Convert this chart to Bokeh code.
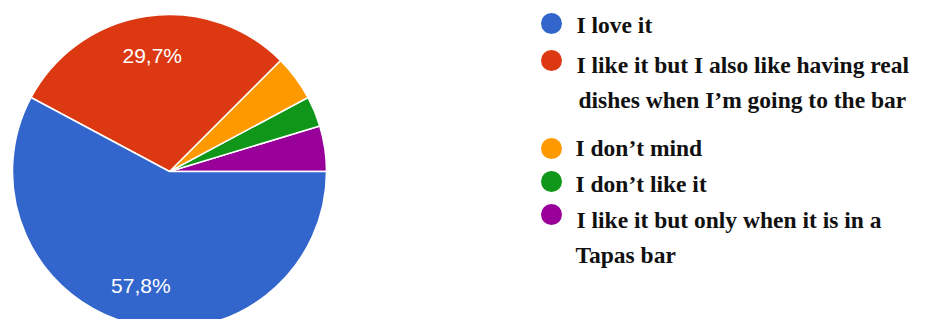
import numpy as np
from bokeh.plotting import figure
from bokeh.models import Range1d, ColumnDataSource
from bokeh.core.properties import value
from bokeh.embed import file_html
from bokeh.resources import INLINE

# ---- data ----
categories = ["I love it",
              "I like it but I also like having real dishes when I\u2019m going to the bar",
              "I don\u2019t mind",
              "I don\u2019t like it",
              "I like it but only when it is in a Tapas bar"]
counts = [37, 19, 3, 2, 3]
colors = ["#3366cc", "#dc3912", "#ff9900", "#109618", "#990099"]
legend_lines = [["I love it"],
                ["I like it but I also like having real", "dishes when I\u2019m going to the bar"],
                ["I don\u2019t mind"],
                ["I don\u2019t like it"],
                ["I like it but only when it is in a", "Tapas bar"]]

W, H = 926, 319
p = figure(width=W, height=H, output_backend="svg", toolbar_location=None,
           x_range=Range1d(0, W), y_range=Range1d(0, H), min_border=0)
p.axis.visible = False
p.grid.visible = False
p.outline_line_color = None
p.background_fill_color = "white"

def Y(py):
    return H - py

cx, cy, R = 169, Y(171), 157
vals = np.array(counts, dtype=float)
frac = vals / vals.sum()
# drawing order counter-clockwise from east: purple, green, orange, red, blue
order = [4, 3, 2, 1, 0]
start = 0.0
starts, ends, cols, mids, fr = [], [], [], [], []
for i in order:
    a0 = start
    a1 = start + frac[i] * 2 * np.pi
    starts.append(a0); ends.append(a1); cols.append(colors[i])
    mids.append((a0 + a1) / 2); fr.append(frac[i])
    start = a1

src = ColumnDataSource(dict(x=[cx]*len(starts), y=[cy]*len(starts),
                            s=starts, e=ends, c=cols))
p.wedge(x="x", y="y", radius=R, start_angle="s", end_angle="e", fill_color="c",
        line_color="white", line_width=1.5, source=src)

# percentage labels for large slices
lx, ly, lt = [], [], []
for m, f in zip(mids, fr):
    if f > 0.2:
        lx.append(cx + 0.75 * R * np.cos(m))
        ly.append(cy + 0.75 * R * np.sin(m))
        lt.append(("%.1f%%" % (f * 100)).replace(".", ","))
p.text(x=lx, y=ly, text=lt, text_color="white", text_font=value("Liberation Sans"),
       text_font_size="21px", text_align="center", text_baseline="middle")

# legend
circle_y = [23, 60, 148, 181, 214]
base_y = [[24], [64, 99], [147], [183], [219, 254]]
text_x = [[576], [576, 578], [575], [575], [576, 575]]
for k in range(len(categories)):
    p.scatter(x=[551], y=[Y(circle_y[k])], size=21, marker="circle",
              fill_color=colors[k], line_color=None)
    for line, by, tx in zip(legend_lines[k], base_y[k], text_x[k]):
        p.text(x=[tx], y=[Y(by)], text=[line], text_color="#111111",
               text_font=value("Liberation Serif"), text_font_style="bold",
               text_font_size="23.5px", text_align="left", text_baseline="alphabetic")

open("out.html", "w").write(file_html(p, INLINE))
